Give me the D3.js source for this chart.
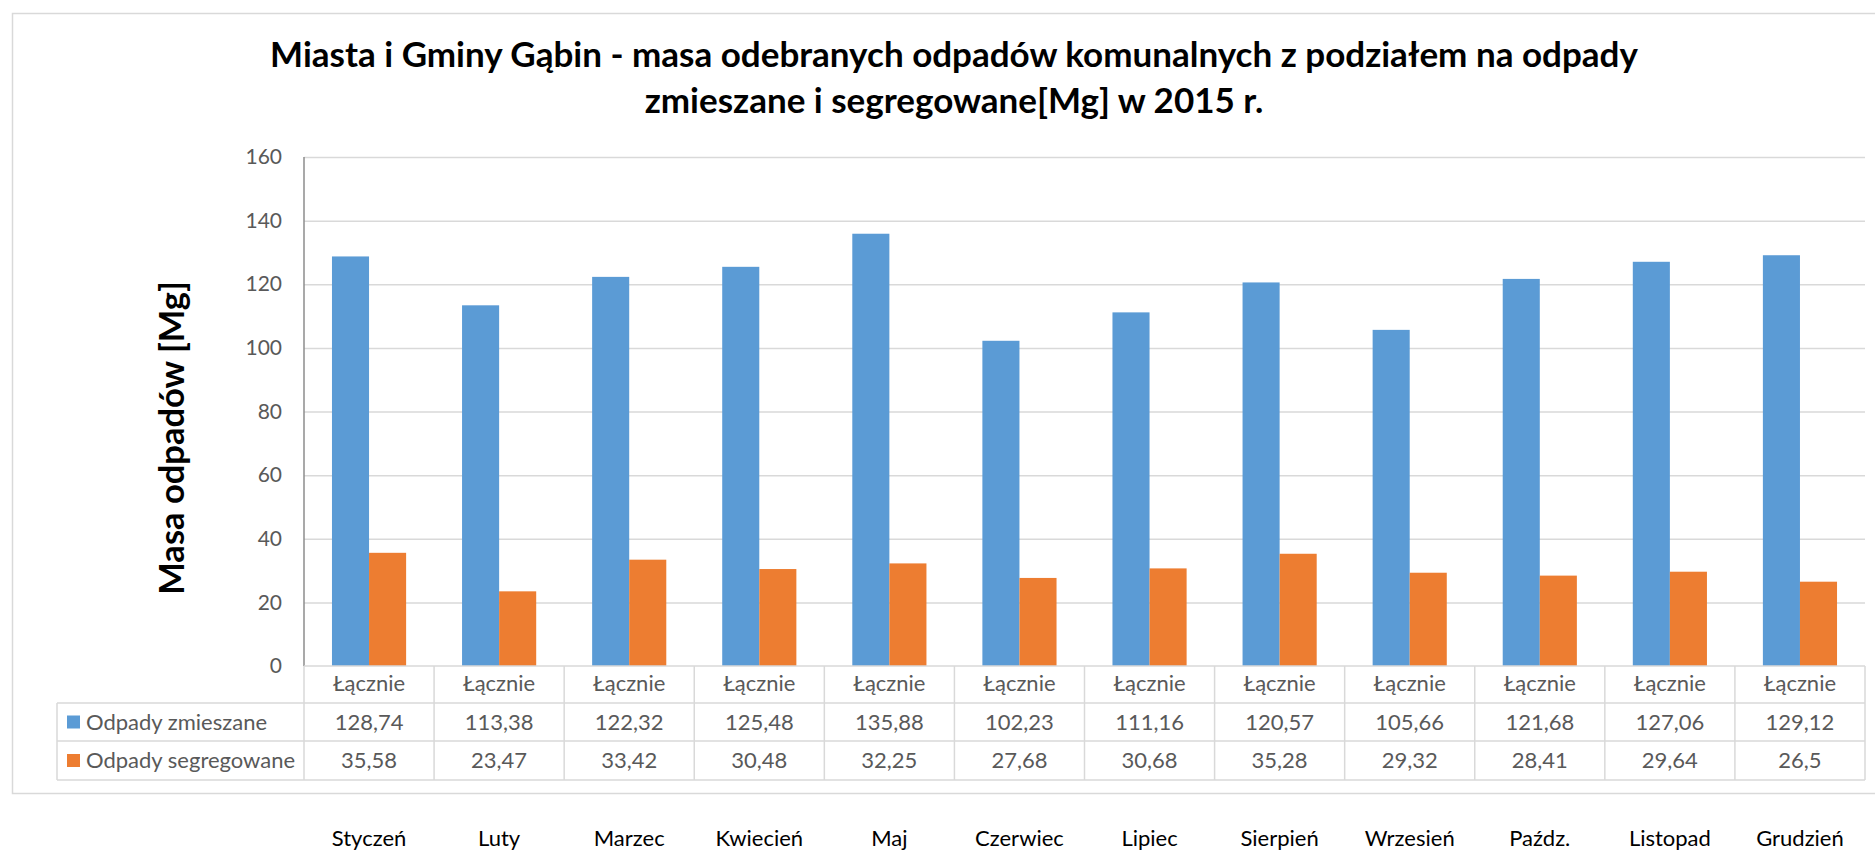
<!DOCTYPE html>
<html>
<head>
<meta charset="utf-8">
<script src="https://cdn.jsdelivr.net/npm/d3@7"></script>
<style>
  body { margin: 0; background: #fff; }
  text { font-family: Lato, "Open Sans", sans-serif; }
</style>
</head>
<body>
<svg></svg>
<script>
// chart data
const months = ["Styczeń", "Luty", "Marzec", "Kwiecień", "Maj", "Czerwiec",
                "Lipiec", "Sierpień", "Wrzesień", "Paźdz.", "Listopad", "Grudzień"];
const headerLabel = "Łącznie";
const seriesNames = ["Odpady zmieszane", "Odpady segregowane"];
const mixed = [128.74, 113.38, 122.32, 125.48, 135.88, 102.23, 111.16, 120.57, 105.66, 121.68, 127.06, 129.12];
const sorted = [35.58, 23.47, 33.42, 30.48, 32.25, 27.68, 30.68, 35.28, 29.32, 28.41, 29.64, 26.5];
const yTicks = [0, 20, 40, 60, 80, 100, 120, 140, 160];
const titleLines = ["Miasta i Gminy Gąbin - masa odebranych odpadów komunalnych z podziałem na odpady",
                    "zmieszane i segregowane[Mg] w 2015 r."];
const yTitle = "Masa odpadów [Mg]";
const colors = ["#5B9BD5", "#ED7D31"];

// layout
const w = 1875;
const h = 853;
const plotLeft = 304;
const plotRight = 1865;
const plotTop = 157;
const plotBottom = 666;
const rowEdges = [666, 703, 741, 780];
const tableLeft = 57;
const gridColor = "#D9D9D9";
const textGray = "#595959";

const svg = d3.select("svg")
              .attr("width", w)
              .attr("height", h);

// outer chart border
svg.append("rect")
   .attr("x", 12.5)
   .attr("y", 13.5)
   .attr("width", w)
   .attr("height", 780)
   .attr("fill", "none")
   .attr("stroke", gridColor)
   .attr("stroke-width", 1.5);

// title
svg.selectAll(".title")
   .data(titleLines)
   .enter()
   .append("text")
   .attr("class", "title")
   .attr("x", 954)
   .attr("y", (d, i) => i == 0 ? 67 : 113)
   .attr("text-anchor", "middle")
   .attr("font-weight", "bold")
   .attr("font-size", 35)
   .attr("fill", "#000")
   .text(d => d);

const xScale = d3.scaleBand()
                 .domain(months)
                 .range([plotLeft, plotRight]);

const bw = xScale.bandwidth();
const groupW = bw * 0.57;
const xInner = d3.scaleBand()
                 .domain(seriesNames)
                 .range([(bw - groupW) / 2, (bw + groupW) / 2]);

const yScale = d3.scaleLinear()
                 .domain([0, 160])
                 .range([plotBottom, plotTop]);

// gridlines + tick labels
const yAxis = d3.axisLeft(yScale)
                .tickValues(yTicks)
                .tickSize(-(plotRight - plotLeft))
                .tickPadding(22);

const yg = svg.append("g")
              .attr("transform", "translate(" + plotLeft + ",0)")
              .call(yAxis);
yg.select(".domain").remove();
yg.selectAll(".tick line")
  .attr("stroke", d => d == 0 ? "none" : gridColor)
  .attr("stroke-width", 1.5);
yg.selectAll(".tick text")
  .attr("fill", textGray)
  .attr("font-size", 21)
  .attr("font-family", "Lato, sans-serif");

// y axis title
svg.append("text")
   .attr("transform", "translate(184," + 438 + ") rotate(-90)")
   .attr("text-anchor", "middle")
   .attr("font-weight", "bold")
   .attr("font-size", 34.5)
   .attr("fill", "#000")
   .text(yTitle);

// bars
const rows = months.map((m, i) => ({month: m, values: [mixed[i], sorted[i]]}));

const groups = svg.selectAll(".month")
                  .data(rows)
                  .enter()
                  .append("g")
                  .attr("class", "month")
                  .attr("transform", d => "translate(" + xScale(d.month) + ",0)");

groups.selectAll("rect")
      .data(d => d.values.map((v, k) => ({name: seriesNames[k], value: v, k: k})))
      .enter()
      .append("rect")
      .attr("x", d => xInner(d.name))
      .attr("y", d => yScale(d.value))
      .attr("width", xInner.bandwidth())
      .attr("height", d => yScale(0) - yScale(d.value))
      .attr("fill", d => colors[d.k]);

// vertical axis line
svg.append("line")
   .attr("x1", plotLeft)
   .attr("x2", plotLeft)
   .attr("y1", plotTop)
   .attr("y2", plotBottom)
   .attr("stroke", "#8C8C8C")
   .attr("stroke-width", 1.5);

// data table
const table = svg.append("g").attr("class", "table");

// horizontal lines
table.selectAll(".hline")
     .data(rowEdges)
     .enter()
     .append("line")
     .attr("x1", (d, i) => i == 0 ? plotLeft : tableLeft)
     .attr("x2", plotRight)
     .attr("y1", d => d)
     .attr("y2", d => d)
     .attr("stroke", gridColor)
     .attr("stroke-width", 1.5);

// vertical lines
const colEdges = months.map(m => xScale(m)).concat([plotRight]);
table.selectAll(".vline")
     .data(colEdges)
     .enter()
     .append("line")
     .attr("x1", d => d)
     .attr("x2", d => d)
     .attr("y1", rowEdges[0])
     .attr("y2", rowEdges[3])
     .attr("stroke", gridColor)
     .attr("stroke-width", 1.5);

table.append("line")
     .attr("x1", tableLeft)
     .attr("x2", tableLeft)
     .attr("y1", rowEdges[1])
     .attr("y2", rowEdges[3])
     .attr("stroke", gridColor)
     .attr("stroke-width", 1.5);

const rowMid = i => (rowEdges[i] + rowEdges[i + 1]) / 2;

// header row
table.selectAll(".hdr")
     .data(months)
     .enter()
     .append("text")
     .attr("x", d => xScale(d) + bw / 2)
     .attr("y", rowMid(0) - 1)
     .attr("dy", "0.35em")
     .attr("text-anchor", "middle")
     .attr("font-size", 22)
     .attr("fill", textGray)
     .text(headerLabel);

// value rows
const fmt = v => String(v).replace(".", ",");
[mixed, sorted].forEach((vals, k) => {
  table.selectAll(".val" + k)
       .data(vals)
       .enter()
       .append("text")
       .attr("x", (d, i) => xScale(months[i]) + bw / 2)
       .attr("y", rowMid(k + 1))
       .attr("dy", "0.35em")
       .attr("text-anchor", "middle")
       .attr("font-size", 22)
       .attr("fill", textGray)
       .text(d => fmt(d));

  // legend key + series name
  table.append("rect")
       .attr("x", 67)
       .attr("y", rowMid(k + 1) - 6.5)
       .attr("width", 13)
       .attr("height", 13)
       .attr("fill", colors[k]);

  table.append("text")
       .attr("x", 86)
       .attr("y", rowMid(k + 1))
       .attr("dy", "0.35em")
       .attr("font-size", 22)
       .attr("fill", textGray)
       .text(seriesNames[k]);
});

// month names under the chart
svg.selectAll(".monthlabel")
   .data(months)
   .enter()
   .append("text")
   .attr("class", "monthlabel")
   .attr("x", d => xScale(d) + bw / 2)
   .attr("y", 846)
   .attr("text-anchor", "middle")
   .attr("font-size", 22)
   .attr("fill", "#000")
   .text(d => d);
</script>
</body>
</html>
